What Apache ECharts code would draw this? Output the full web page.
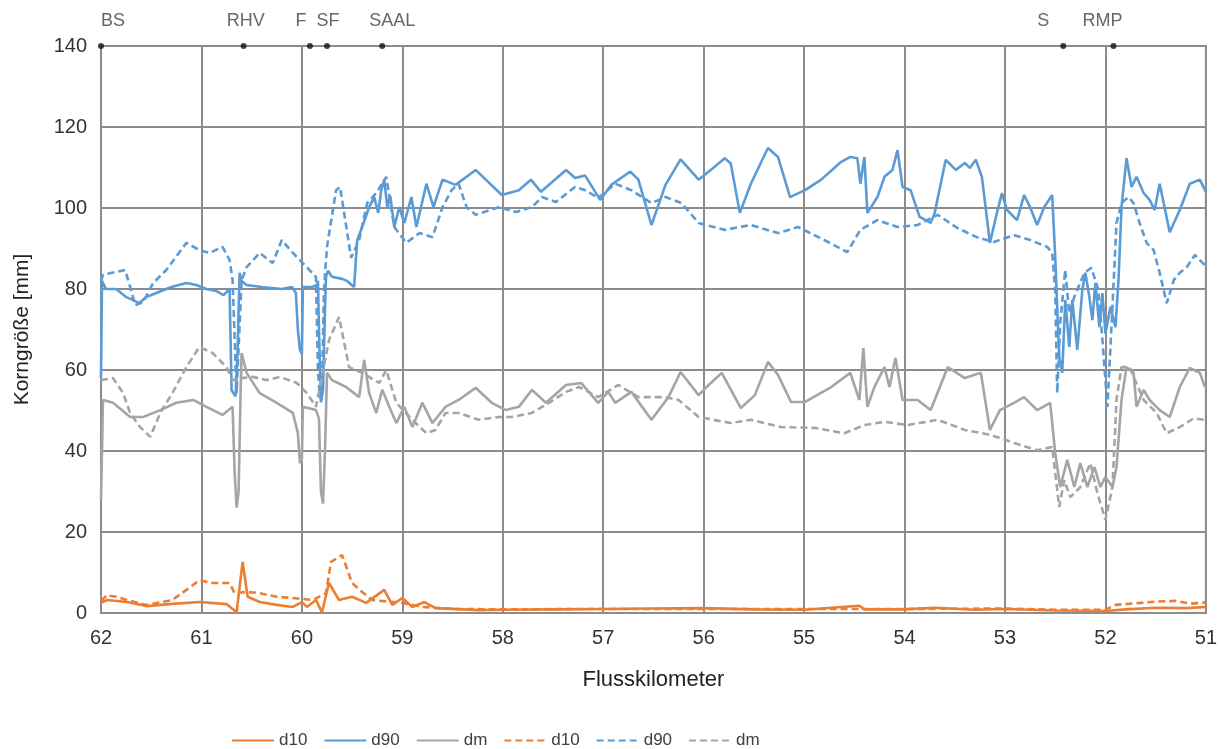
<!DOCTYPE html>
<html>
<head>
<meta charset="utf-8">
<script src="https://cdn.jsdelivr.net/npm/echarts@6/dist/echarts.min.js"></script>
<style>
  html, body { margin: 0; padding: 0; background: #fff; }
  #diogram { width: 1220px; height: 749px; }
</style>
</head>
<body>
<div id="diogram"></div>
<script>
// [Flusskilometer, Korngröße mm]
let d10Solid = [
    [62.0, 2.5], [61.94, 3.2], [61.74, 2.7], [61.54, 1.7], [61.32, 2.2], [61.02, 2.7],
    [60.75, 2.2], [60.65, 0.2], [60.59, 12.6], [60.54, 4], [60.42, 2.7], [60.25, 2],
    [60.09, 1.5], [60.0, 2.7], [59.95, 1.5], [59.86, 3.2], [59.8, 0.2], [59.73, 7.4],
    [59.63, 3.2], [59.5, 4], [59.36, 2.5], [59.18, 5.7], [59.1, 2], [59.0, 3.7],
    [58.9, 1.5], [58.78, 2.7], [58.67, 1.2], [58.24, 0.7], [58.0, 0.8], [57.5, 0.9],
    [57.0, 1.0], [56.5, 1.1], [56.0, 1.2], [55.5, 0.9], [55.0, 0.8], [54.45, 1.8],
    [54.4, 0.9], [54.0, 0.9], [53.7, 1.3], [53.3, 0.8], [53.0, 1.0], [52.5, 0.6],
    [52.0, 0.5], [51.8, 0.9], [51.5, 1.3], [51.2, 1.2], [51.0, 1.5]
];
let d90Solid = [
    [62.0, 58], [61.99, 82], [61.95, 80], [61.85, 80], [61.75, 78], [61.7, 77.5],
    [61.62, 76.5], [61.55, 78], [61.45, 79], [61.3, 80.5], [61.15, 81.5], [61.05, 81],
    [60.95, 80], [60.85, 79.5], [60.78, 78.5], [60.72, 80], [60.7, 55], [60.66, 53.5],
    [60.64, 65], [60.62, 84], [60.6, 82], [60.55, 81], [60.4, 80.5], [60.2, 80],
    [60.1, 80.5], [60.06, 79], [60.04, 70], [60.02, 65], [60.0, 64], [59.99, 80.5],
    [59.9, 80.5], [59.85, 81], [59.84, 82], [59.83, 70], [59.81, 52], [59.79, 55],
    [59.77, 75], [59.76, 83], [59.74, 84.5], [59.7, 83], [59.6, 82.5], [59.55, 82],
    [59.48, 80.5], [59.45, 92], [59.4, 95.3], [59.33, 100.2], [59.28, 102.7], [59.24, 98.8],
    [59.21, 104.4], [59.18, 107], [59.15, 100.2], [59.12, 103], [59.08, 95.3], [59.03, 100.2], [58.98, 96.3],
    [58.91, 102.7], [58.86, 95.3], [58.76, 106], [58.69, 100.2], [58.6, 107], [58.47, 105.7],
    [58.27, 109.4], [58.01, 103.2], [57.84, 104.4], [57.72, 107], [57.62, 104], [57.37, 109.4],
    [57.28, 107.4], [57.18, 108], [57.03, 102], [56.92, 105.7], [56.73, 109], [56.65, 107],
    [56.52, 95.8], [56.38, 105.7], [56.23, 112], [56.05, 107], [55.93, 109.4], [55.79, 112.3],
    [55.73, 111], [55.64, 98.8], [55.53, 106], [55.36, 114.8], [55.26, 112.6], [55.14, 102.7],
    [54.99, 104.4], [54.83, 107], [54.63, 111.4], [54.54, 112.6], [54.47, 112.3], [54.44, 106],
    [54.4, 112.6], [54.37, 98.8], [54.27, 102.7], [54.2, 107.7], [54.12, 109.4], [54.07, 114.3],
    [54.02, 105.2], [53.94, 104.4], [53.85, 97.8], [53.74, 96.3], [53.7, 98.8], [53.59, 111.9],
    [53.49, 109.4], [53.4, 111.1], [53.35, 109.9], [53.29, 111.9], [53.23, 107.7], [53.15, 91.4],
    [53.08, 98.8], [53.03, 103.7], [52.98, 99.5], [52.88, 97], [52.81, 103.2], [52.75, 100.2],
    [52.68, 95.8], [52.61, 100.2], [52.53, 103.2], [52.5, 88], [52.46, 63.2], [52.43, 59.3],
    [52.4, 77.3], [52.36, 65.7], [52.33, 77.3], [52.28, 65], [52.23, 79.8], [52.2, 84],
    [52.16, 78], [52.13, 72.3], [52.1, 81.5], [52.06, 70.6], [52.03, 79], [52.0, 69],
    [51.95, 75.6], [51.9, 70.6], [51.87, 82.2], [51.84, 100.2], [51.79, 112.3], [51.74, 105.2],
    [51.69, 107.7], [51.62, 103.7], [51.56, 102], [51.51, 99.5], [51.46, 106], [51.36, 94],
    [51.26, 99.5], [51.16, 106], [51.06, 107], [51.0, 104]
];
let dmSolid = [
    [62.0, 28], [61.98, 52.6], [61.88, 51.9], [61.71, 48.4], [61.58, 48.4], [61.41, 50.1],
    [61.25, 51.9], [61.08, 52.6], [60.95, 50.9], [60.79, 48.9], [60.69, 50.9], [60.67, 35],
    [60.65, 26], [60.63, 30], [60.61, 55], [60.6, 64.2], [60.55, 59.3], [60.42, 54.3],
    [60.25, 51.9], [60.09, 49.4], [60.04, 44.4], [60.02, 37], [60.0, 38], [59.99, 50.9],
    [59.86, 50.1], [59.83, 48], [59.81, 30], [59.79, 27], [59.77, 40], [59.75, 59.3],
    [59.7, 57.5], [59.56, 55.8], [59.43, 53.3], [59.38, 62.5], [59.33, 54.3], [59.26, 49.4],
    [59.2, 55.1], [59.13, 50.9], [59.06, 46.9], [58.98, 50.9], [58.9, 45.9], [58.8, 51.9],
    [58.7, 46.9], [58.57, 50.9], [58.44, 52.6], [58.27, 55.6], [58.11, 51.9], [57.97, 50.1],
    [57.84, 50.9], [57.71, 55.1], [57.57, 51.9], [57.37, 56.3], [57.22, 56.8], [57.05, 51.9],
    [56.95, 54.6], [56.88, 51.9], [56.72, 54.6], [56.52, 47.7], [56.35, 53.3], [56.23, 59.5],
    [56.05, 53.8], [55.95, 56.3], [55.82, 59.3], [55.63, 50.6], [55.49, 53.8], [55.36, 62],
    [55.26, 58.8], [55.13, 52.1], [54.99, 52.1], [54.73, 55.8], [54.54, 59.3], [54.45, 52.6],
    [54.41, 65.4], [54.37, 50.9], [54.3, 55.8], [54.2, 60.7], [54.15, 55.8], [54.09, 63],
    [54.02, 52.6], [53.87, 52.6], [53.74, 50.1], [53.57, 60.7], [53.4, 58], [53.24, 59.3],
    [53.15, 45.2], [53.05, 50.1], [52.91, 51.9], [52.81, 53.3], [52.68, 50.1], [52.55, 51.9],
    [52.5, 39.5], [52.45, 31.1], [52.38, 37.8], [52.31, 31.1], [52.25, 37], [52.18, 31.1],
    [52.11, 36], [52.05, 31.1], [52.0, 33.6], [51.93, 31.1], [51.89, 36], [51.84, 52.6],
    [51.79, 60.7], [51.72, 59.3], [51.69, 50.9], [51.62, 55.1], [51.56, 52.6], [51.46, 50.1],
    [51.36, 48.4], [51.26, 55.8], [51.16, 60.5], [51.06, 59.3], [51.01, 55.8]
];
let d10Dashed = [
    [62.0, 3], [61.94, 4.4], [61.85, 4], [61.74, 3.2], [61.55, 2], [61.4, 2.7],
    [61.29, 3.2], [61.15, 5.7], [61.02, 8.1], [60.89, 7.4], [60.72, 7.4], [60.67, 4.9],
    [60.55, 5.2], [60.42, 4.9], [60.25, 4], [60.09, 3.7], [59.89, 3.2], [59.76, 4.9],
    [59.71, 12.6], [59.6, 14.3], [59.5, 7.4], [59.4, 5.2], [59.3, 3.2], [59.0, 2.5],
    [58.8, 1.5], [58.5, 1.0], [58.0, 0.9], [57.0, 1.0], [56.0, 1.0], [55.0, 1.0],
    [54.0, 1.0], [53.0, 1.1], [52.5, 0.8], [52.0, 0.8], [51.9, 2.0], [51.7, 2.4],
    [51.5, 2.8], [51.3, 3.0], [51.15, 2.3], [51.0, 2.6]
];
let d90Dashed = [
    [62.0, 82], [61.98, 83.5], [61.76, 84.7], [61.71, 80.5], [61.66, 76], [61.58, 76.8],
    [61.48, 81.5], [61.35, 84.7], [61.15, 91.4], [61.02, 89.6], [60.92, 88.9], [60.79, 90.4],
    [60.72, 87.2], [60.69, 82.2], [60.65, 54.3], [60.6, 82.2], [60.55, 85.4], [60.42, 88.9],
    [60.29, 86.4], [60.2, 92.1], [60.09, 88.9], [59.99, 86.4], [59.86, 83], [59.84, 60],
    [59.82, 53], [59.8, 55], [59.78, 80], [59.75, 90.4], [59.66, 104.4], [59.62, 105.2],
    [59.51, 87.7], [59.43, 92.1], [59.35, 101.2], [59.26, 103.7], [59.16, 107.7], [59.08, 95.3],
    [58.96, 91.4], [58.83, 93.8], [58.7, 92.8], [58.6, 100.2], [58.51, 104.4], [58.44, 106],
    [58.36, 100.2], [58.27, 98.3], [58.04, 100.2], [57.87, 99], [57.71, 100.2], [57.61, 102.7],
    [57.47, 101.5], [57.28, 105.2], [57.18, 104.4], [57.05, 102.5], [56.88, 106], [56.72, 104.4],
    [56.52, 101.2], [56.38, 102.7], [56.22, 101.2], [56.05, 96.3], [55.79, 94.6], [55.53, 95.8],
    [55.26, 93.8], [55.06, 95.3], [54.8, 92.1], [54.57, 89.1], [54.44, 94.6], [54.27, 97],
    [54.07, 95.3], [53.87, 95.8], [53.67, 98.3], [53.47, 95], [53.28, 92.8], [53.11, 91.6],
    [52.91, 93.3], [52.75, 92.1], [52.58, 90.4], [52.53, 88.9], [52.5, 79.8], [52.48, 54.3],
    [52.45, 71.6], [52.4, 84.7], [52.36, 74], [52.31, 78], [52.21, 84], [52.14, 85.2],
    [52.07, 79.8], [52.03, 67.4], [51.98, 50.9], [51.93, 75.6], [51.89, 96.3], [51.84, 101.2],
    [51.77, 102.7], [51.72, 101.2], [51.66, 96.3], [51.59, 91.4], [51.52, 89.6], [51.46, 84],
    [51.39, 76.5], [51.32, 82.2], [51.26, 84], [51.19, 85.4], [51.11, 88.4], [51.01, 85.9]
];
let dmDashed = [
    [62.0, 57.5], [61.88, 58], [61.78, 54.3], [61.71, 49.4], [61.61, 45.9], [61.51, 43.5],
    [61.41, 49.4], [61.29, 54.3], [61.15, 60.7], [61.02, 65.7], [60.89, 64.2], [60.75, 60.7],
    [60.69, 57.5], [60.6, 58], [60.49, 58.3], [60.35, 57.5], [60.22, 58.3], [60.05, 56.8],
    [59.95, 54.3], [59.86, 50.9], [59.73, 67.4], [59.63, 73.1], [59.53, 60.7], [59.4, 59.3],
    [59.23, 56.8], [59.16, 60], [59.06, 51.9], [58.9, 47.7], [58.76, 44.4], [58.67, 45.2],
    [58.57, 49.4], [58.44, 49.4], [58.24, 47.7], [58.04, 48.4], [57.91, 48.4], [57.71, 49.4],
    [57.54, 51.9], [57.37, 54.6], [57.24, 55.8], [57.05, 53.3], [56.85, 56.3], [56.65, 53.3],
    [56.38, 53.3], [56.25, 52.6], [56.05, 48.4], [55.73, 46.9], [55.53, 47.7], [55.23, 45.9],
    [54.89, 45.7], [54.6, 44.4], [54.4, 46.4], [54.2, 47.2], [53.97, 46.4], [53.67, 47.7],
    [53.4, 45.2], [53.15, 44], [52.91, 42], [52.68, 40.2], [52.53, 41], [52.5, 34.6],
    [52.46, 26.2], [52.41, 32.8], [52.35, 28.6], [52.25, 31.1], [52.15, 37], [52.08, 29.6],
    [52.0, 23], [51.93, 31.1], [51.89, 52.6], [51.84, 60.7], [51.76, 60.7], [51.62, 52.6],
    [51.49, 49.4], [51.39, 44.4], [51.26, 45.9], [51.12, 48.1], [51.02, 47.7]
];

let stationNames = ['BS', 'RHV', 'F', 'SF', 'SAAL', 'S', 'RMP'];
let stationKm = [62.0, 60.58, 59.92, 59.75, 59.2, 52.42, 51.92];
let stationLabelShift = [12, 2, -9, 1, 10, -20, -11];

let diogram = document.getElementById("diogram");
let myDiogram = echarts.init(diogram);

let orange = '#ED7D31';
let blue = '#5B9BD5';
let grey = '#A5A5A5';
let gridColor = '#8c8c8c';

function lineSeries(name, data, color, dashed) {
    return {
        name: name,
        type: 'line',
        data: data,
        symbol: 'none',
        color: color,
        lineStyle: {
            color: color,
            width: 2.6,
            type: dashed ? [7, 4] : 'solid'
        },
        animation: false
    };
}

let option = {
    textStyle: { fontFamily: 'Liberation Sans, Arial, sans-serif' },
    grid: {
        left: 101,
        right: 10,
        top: 46,
        bottom: 136,
        show: true,
        borderColor: gridColor,
        borderWidth: 2
    },
    legend: {
        left: 226,
        top: 727,
        itemWidth: 42,
        itemHeight: 12,
        itemGap: 16,
        itemStyle: { opacity: 0 },
        textStyle: { fontSize: 17, color: '#404040' },
        formatter: function (name) { return name.trim(); },
        data: ['d10', 'd90', 'dm', 'd10 ', 'd90 ', 'dm ']
    },
    xAxis: {
        type: 'value',
        inverse: true,
        min: 51,
        max: 62,
        interval: 1,
        name: 'Flusskilometer',
        nameLocation: 'middle',
        nameGap: 56,
        nameTextStyle: { fontSize: 22, color: '#222' },
        axisLine: { show: false },
        axisTick: { show: false },
        axisLabel: { fontSize: 20, color: '#333', margin: 15 },
        splitLine: { show: true, lineStyle: { color: gridColor, width: 2 } }
    },
    yAxis: {
        type: 'value',
        min: 0,
        max: 140,
        interval: 20,
        name: 'Korngröße [mm]',
        nameLocation: 'middle',
        nameGap: 68,
        nameTextStyle: { fontSize: 21, color: '#222' },
        axisLine: { show: false },
        axisTick: { show: false },
        axisLabel: { fontSize: 20, color: '#333', margin: 14 },
        splitLine: { show: true, lineStyle: { color: gridColor, width: 2 } }
    },
    series: [
        lineSeries('d10', d10Solid, orange, false),
        lineSeries('d90', d90Solid, blue, false),
        lineSeries('dm', dmSolid, grey, false),
        lineSeries('d10 ', d10Dashed, orange, true),
        lineSeries('d90 ', d90Dashed, blue, true),
        lineSeries('dm ', dmDashed, grey, true),
        {
            type: 'scatter',
            symbolSize: 6,
            color: '#111',
            clip: false,
            animation: false,
            data: stationKm.map(function (km, i) {
                return {
                    value: [km, 140],
                    name: stationNames[i],
                    label: { offset: [stationLabelShift[i], 0] }
                };
            }),
            label: {
                show: true,
                position: 'top',
                distance: 13,
                fontSize: 18,
                color: '#404040',
                formatter: '{b}'
            }
        }
    ]
};

myDiogram.setOption(option);
</script>
</body>
</html>
